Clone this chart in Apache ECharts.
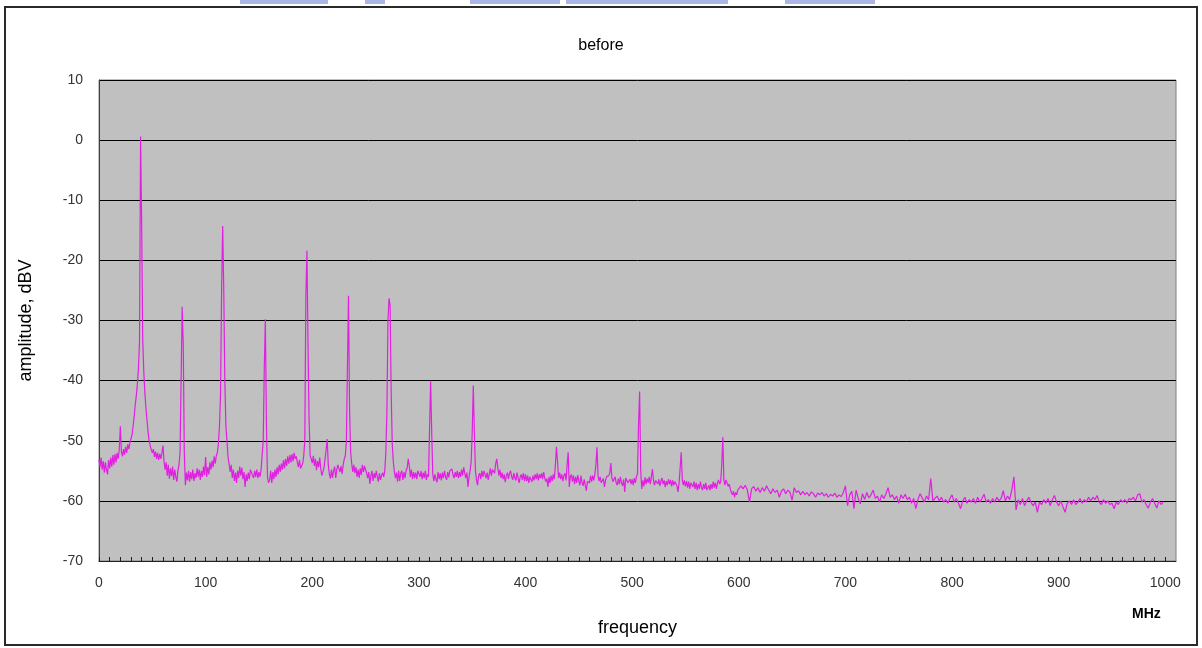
<!DOCTYPE html>
<html>
<head>
<meta charset="utf-8">
<script src="https://cdn.jsdelivr.net/npm/echarts@6/dist/echarts.min.js"></script>
<style>
html,body{margin:0;padding:0;background:#fff;}
#chart{width:1202px;height:648px;}
</style>
</head>
<body>
<div id="chart"></div>
<script>
// Spectrum "before": amplitude (dBV)
// ampLow: values at 0,1,2,...,599 MHz (1 MHz grid)
const ampLow = [
-53.2,-54.4,-52.8,-54.8,-53.4,-55.3,-53.6,-54.8,-55.6,-53.2,
-54.6,-52.8,-54.3,-52.4,-54.0,-52.2,-53.6,-52.0,-53.0,-51.5,
-47.6,-51.8,-52.6,-51.4,-52.3,-51.0,-52.0,-50.6,-51.4,-50.3,
-50.0,-49.0,-47.5,-46.0,-44.0,-42.5,-40.5,-38.0,-33.5,0.6,
-14.0,-33.0,-38.5,-42.0,-44.5,-46.5,-48.5,-50.0,-50.8,-51.5,
-52.0,-51.4,-52.7,-51.8,-53.0,-52.0,-53.2,-52.2,-53.0,-52.0,
-50.8,-53.5,-54.8,-53.6,-55.8,-54.0,-56.3,-54.6,-55.9,-54.3,
-56.5,-54.8,-56.0,-56.8,-55.0,-54.0,-52.0,-40.0,-27.7,-34.0,
-52.0,-57.4,-55.3,-56.6,-55.0,-56.8,-55.2,-56.4,-54.8,-56.7,
-55.4,-56.2,-54.6,-56.0,-54.8,-56.5,-55.0,-56.0,-54.3,-55.7,
-52.7,-56.0,-54.4,-55.6,-53.6,-54.8,-53.3,-54.4,-52.6,-53.8,
-52.5,-52.0,-50.5,-47.5,-42.0,-24.5,-14.3,-25.0,-40.0,-47.5,
-50.0,-52.7,-53.8,-55.2,-54.0,-56.2,-54.8,-56.7,-55.3,-57.0,
-55.0,-56.2,-54.3,-55.8,-54.5,-56.4,-55.2,-57.7,-55.6,-56.7,
-55.3,-56.4,-54.8,-54.7,-55.8,-56.2,-55.0,-56.0,-54.8,-56.2,
-55.2,-56.0,-54.8,-54.5,-50.0,-38.0,-29.8,-47.0,-56.0,-57.0,
-56.5,-55.0,-57.0,-55.2,-56.4,-54.8,-56.0,-54.4,-55.6,-54.0,
-55.2,-53.8,-54.8,-53.2,-54.6,-53.0,-54.2,-52.6,-53.8,-52.4,
-53.6,-52.2,-53.4,-52.0,-53.0,-52.6,-53.6,-54.4,-53.2,-54.6,
-54.4,-53.8,-52.5,-50.0,-25.8,-18.4,-33.7,-46.4,-52.5,-53.0,
-53.7,-52.5,-54.2,-53.0,-54.9,-53.4,-54.4,-52.8,-54.7,-55.8,
-55.8,-54.5,-53.0,-51.5,-49.7,-54.0,-55.5,-56.3,-54.8,-56.2,
-55.0,-54.3,-56.2,-54.8,-54.0,-54.2,-55.2,-54.2,-55.5,-54.0,
-53.0,-52.5,-50.0,-37.4,-25.9,-45.0,-52.0,-53.8,-55.2,-54.0,
-55.4,-54.4,-56.0,-54.8,-56.2,-54.6,-55.7,-54.0,-55.2,-54.2,
-54.1,-55.4,-56.2,-55.2,-57.2,-55.8,-55.0,-56.7,-55.4,-56.2,
-55.0,-56.0,-56.8,-55.4,-56.5,-55.8,-55.3,-56.0,-55.0,-52.0,
-45.0,-30.0,-26.3,-27.5,-42.0,-50.5,-53.5,-55.2,-56.2,-55.3,
-56.8,-55.0,-56.7,-55.4,-55.0,-56.5,-55.2,-56.2,-55.0,-54.5,
-53.0,-54.2,-56.0,-54.8,-56.4,-55.2,-56.2,-55.3,-56.4,-55.0,
-54.7,-56.0,-55.0,-56.4,-55.3,-56.2,-55.0,-56.5,-55.6,-56.0,
-48.0,-40.1,-48.5,-55.5,-56.7,-55.6,-56.4,-56.9,-55.2,-56.4,
-55.4,-56.6,-55.3,-56.2,-55.0,-56.0,-56.5,-55.2,-56.1,-55.0,
-55.0,-54.7,-55.7,-56.2,-55.2,-56.0,-55.0,-56.2,-55.2,-56.0,
-54.8,-55.8,-54.4,-55.4,-56.2,-55.3,-57.7,-56.0,-55.0,-53.5,
-48.6,-40.8,-48.6,-55.0,-56.5,-57.4,-55.8,-55.4,-56.4,-55.0,
-56.0,-55.0,-55.0,-56.2,-55.3,-56.5,-55.6,-54.6,-55.8,-54.8,
-54.5,-55.4,-53.8,-53.0,-54.5,-55.8,-54.8,-56.2,-55.3,-56.4,
-55.6,-56.9,-55.8,-55.3,-56.4,-55.4,-55.0,-56.0,-56.5,-55.4,
-56.2,-56.6,-55.3,-56.2,-57.0,-56.0,-55.6,-56.5,-55.4,-56.7,
-55.6,-56.7,-55.8,-57.0,-56.0,-55.7,-56.8,-55.8,-56.6,-55.6,
-56.4,-55.4,-56.6,-55.6,-56.2,-55.4,-56.4,-55.2,-56.2,-56.8,
-56.3,-57.7,-56.0,-57.0,-55.8,-56.7,-55.6,-56.4,-54.0,-51.0,
-53.5,-56.2,-55.3,-56.4,-55.6,-56.7,-55.8,-55.4,-56.6,-54.0,
-51.9,-57.7,-56.0,-55.6,-56.8,-55.8,-57.2,-56.0,-57.0,-55.7,
-56.7,-57.4,-55.8,-57.0,-57.5,-56.4,-57.4,-58.3,-56.8,-56.7,
-57.0,-55.8,-56.8,-55.8,-56.6,-55.6,-54.0,-51.1,-55.8,-56.7,
-56.0,-57.0,-57.2,-56.3,-57.7,-56.6,-56.0,-56.0,-55.8,-55.4,
-53.7,-56.2,-56.8,-57.0,-56.0,-57.0,-57.4,-56.3,-57.2,-56.0,
-57.0,-57.5,-56.4,-58.5,-56.2,-56.0,-57.0,-57.2,-56.4,-57.2,
-56.4,-57.4,-56.2,-57.0,-56.0,-55.5,-47.2,-41.8,-55.0,-58.0,
-56.6,-57.6,-56.1,-57.2,-56.3,-57.0,-56.0,-57.2,-56.0,-54.7,
-56.7,-57.4,-56.6,-56.3,-57.2,-56.4,-57.5,-56.7,-56.2,-57.2,
-56.6,-57.7,-56.7,-57.4,-56.4,-57.2,-56.5,-57.6,-56.6,-57.4,
-56.8,-56.6,-57.5,-58.5,-57.0,-54.5,-51.9,-56.5,-57.4,-56.6,
-57.6,-56.7,-57.8,-56.8,-58.0,-57.0,-56.8,-57.7,-56.8,-58.0,
-57.0,-58.2,-57.2,-58.0,-56.8,-57.8,-58.2,-57.2,-58.0,-57.0,
-58.2,-58.5,-57.4,-58.2,-57.2,-58.0,-56.8,-57.8,-57.0,-58.0,
-57.0,-56.5,-57.2,-56.8,-54.0,-49.4,-56.5,-57.4,-56.5,-57.0,
-57.6,-57.2,-58.0,-58.6,-59.0,-58.4,-59.4,-58.6,-59.0,-58.2
];
// ampHigh: values at 600,602,...,998 MHz (2 MHz grid)
const ampHigh = [
-58.4,-57.5,-58.0,-57.4,-58.2,-60.2,-58.0,-57.6,-58.4,-57.8,
-58.6,-57.8,-58.4,-57.5,-58.2,-58.8,-58.0,-58.6,-58.2,-59.4,
-58.4,-58.0,-58.8,-58.2,-58.6,-59.9,-57.8,-58.6,-58.3,-59.0,
-58.4,-59.0,-58.6,-59.2,-58.5,-58.8,-59.4,-58.7,-59.0,-58.6,
-59.2,-58.8,-59.4,-58.9,-59.2,-58.7,-59.4,-59.0,-59.3,-58.6,
-57.5,-60.8,-59.0,-58.4,-61.3,-58.2,-59.6,-60.5,-58.8,-59.8,
-58.6,-59.5,-59.0,-58.2,-59.6,-59.2,-60.2,-59.0,-59.6,-58.8,
-57.8,-59.4,-59.0,-59.8,-59.2,-60.4,-59.0,-59.6,-58.9,-59.8,
-59.4,-60.4,-59.6,-61.3,-59.8,-58.8,-59.5,-60.2,-59.2,-59.8,
-56.3,-60.0,-59.6,-59.2,-60.0,-59.4,-60.2,-59.8,-60.4,-59.6,
-59.0,-60.2,-59.6,-60.4,-61.3,-60.0,-59.4,-60.4,-59.8,-60.2,
-59.6,-60.4,-59.4,-60.2,-59.6,-58.9,-60.2,-59.8,-60.4,-59.6,
-60.2,-59.4,-60.0,-59.6,-58.3,-60.0,-59.2,-59.8,-58.2,-56.0,
-61.5,-59.8,-60.6,-59.6,-60.8,-60.0,-59.4,-60.2,-60.8,-60.2,
-61.9,-60.2,-60.6,-59.8,-60.4,-59.6,-60.8,-59.8,-59.1,-60.2,
-60.8,-60.0,-61.0,-61.9,-60.4,-60.0,-60.6,-59.8,-60.6,-60.2,
-59.6,-60.4,-59.8,-60.2,-59.4,-60.0,-59.4,-59.8,-59.1,-60.2,
-60.6,-59.8,-60.4,-60.0,-60.6,-60.4,-61.3,-60.2,-60.6,-59.8,
-60.2,-59.8,-60.4,-59.6,-59.8,-59.4,-60.0,-59.0,-58.8,-60.2,
-59.8,-60.6,-61.2,-60.2,-59.6,-60.4,-61.2,-60.0,-60.6,-60.2
];
const lowStartMHz = 0, lowStepMHz = 1;
const highStartMHz = 600, highStepMHz = 2;
const xLabelValues = [0,100,200,300,400,500,600,700,800,900,1000];

const data = [];
ampLow.forEach((v,i) => data.push([lowStartMHz + i*lowStepMHz, v]));
ampHigh.forEach((v,i) => data.push([highStartMHz + i*highStepMHz, v]));

const minorTicks = [];
for (let t = 0; t <= 1000; t += 10) minorTicks.push(t);

const FONT = 'Arial, "Liberation Sans", sans-serif';
const chart = echarts.init(document.getElementById('chart'), null, {renderer:'canvas'});
chart.setOption({
  animation: false,
  backgroundColor: '#ffffff',
  title: {
    text: 'before', left: 'center', top: 33,
    textStyle: {fontFamily: FONT, fontSize: 16, fontWeight: 'normal', color: '#000'}
  },
  grid: {
    left: 99, right: 26, top: 80, bottom: 87,
    show: true, backgroundColor: '#c0c0c0', borderColor: '#808080', borderWidth: 1
  },
  xAxis: {
    type: 'value', min: 0, max: 1010,
    name: 'frequency', nameLocation: 'middle', nameGap: 58,
    nameTextStyle: {fontFamily: FONT, fontSize: 18, color: '#000'},
    axisLine: {show: true, onZero: false, lineStyle: {color: '#202020', width: 1}},
    axisTick: {show: true, inside: true, length: 4, customValues: minorTicks, lineStyle: {color: '#202020'}},
    axisLabel: {customValues: xLabelValues, margin: 15, fontFamily: FONT, fontSize: 14, color: '#333',
      formatter: v => String(v)},
    splitLine: {show: false}
  },
  yAxis: {
    type: 'value', min: -70, max: 10, interval: 10,
    name: 'amplitude, dBV', nameLocation: 'middle', nameGap: 64, nameRotate: 90,
    nameTextStyle: {fontFamily: FONT, fontSize: 18, color: '#000'},
    axisLine: {show: true, lineStyle: {color: '#404040', width: 1}},
    axisTick: {show: false},
    axisLabel: {margin: 16, fontFamily: FONT, fontSize: 14, color: '#333'},
    splitLine: {show: true, lineStyle: {color: '#000', width: 1}}
  },
  graphic: [
    {type: 'rect', shape: {x: 5, y: 7, width: 1192, height: 638}, style: {fill: 'none', stroke: '#2a2a2a', lineWidth: 2}, silent: true, z: 100},
    {type: 'text', left: 1132, top: 607, style: {text: 'MHz', font: 'bold 14px ' + FONT, fill: '#000'}},
    {type: 'rect', shape: {x: 240, y: 0, width: 88, height: 4}, style: {fill: '#a9b6e6'}},
    {type: 'rect', shape: {x: 365, y: 0, width: 20, height: 4}, style: {fill: '#a9b6e6'}},
    {type: 'rect', shape: {x: 470, y: 0, width: 90, height: 4}, style: {fill: '#a9b6e6'}},
    {type: 'rect', shape: {x: 566, y: 0, width: 162, height: 4}, style: {fill: '#a9b6e6'}},
    {type: 'rect', shape: {x: 785, y: 0, width: 90, height: 4}, style: {fill: '#a9b6e6'}}
  ],
  series: [{
    type: 'line', data: data, showSymbol: false, sampling: null,
    lineStyle: {color: '#e020e0', width: 1.2}, itemStyle: {color: '#e020e0'},
    clip: true
  }]
});
</script>
</body>
</html>
